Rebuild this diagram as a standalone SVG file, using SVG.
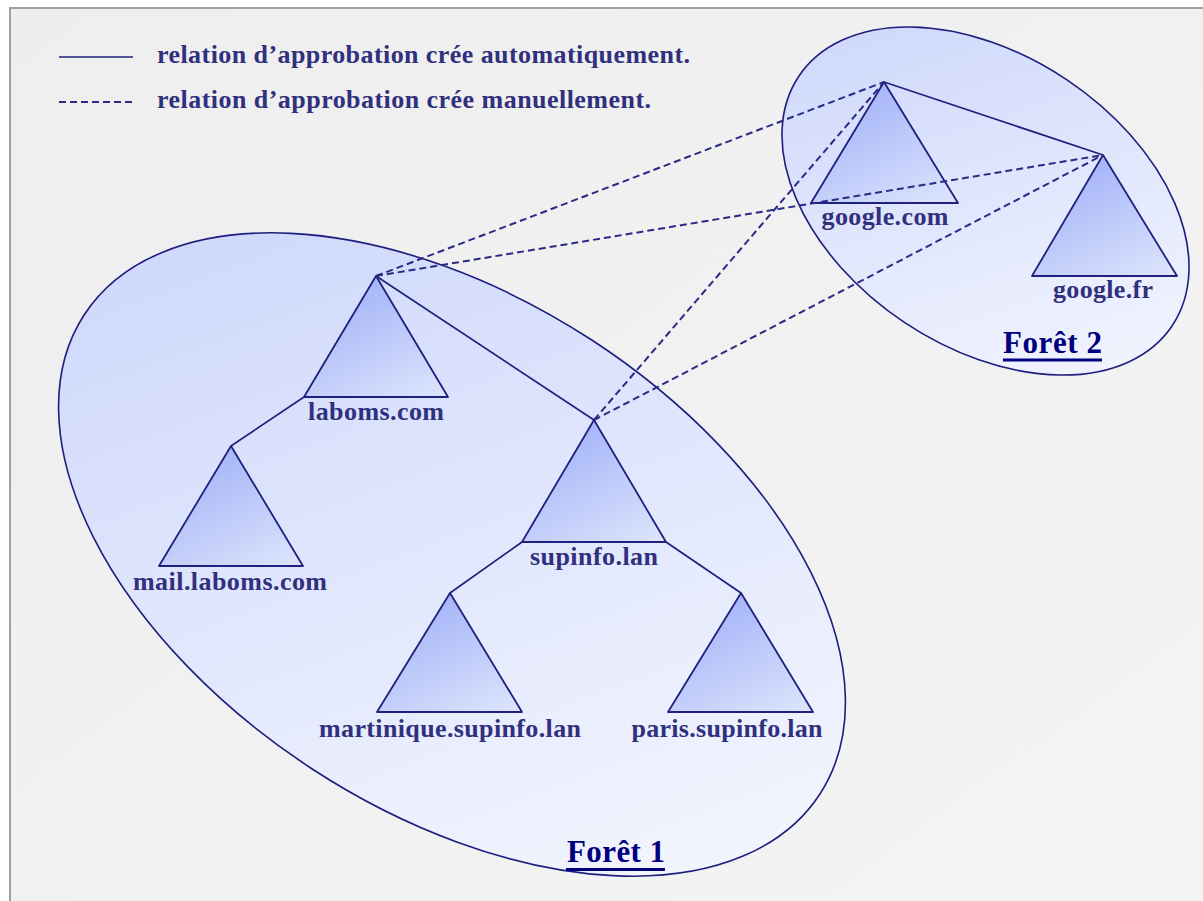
<svg xmlns="http://www.w3.org/2000/svg" width="1203" height="901" viewBox="0 0 1203 901">
<defs>
<linearGradient id="bg" x1="0" y1="0" x2="1" y2="1">
<stop offset="0" stop-color="#eeeeee"/>
<stop offset="1" stop-color="#f4f4f4"/>
</linearGradient>
<linearGradient id="f1" gradientUnits="userSpaceOnUse" x1="100" y1="300" x2="800" y2="820">
<stop offset="0" stop-color="#cdd7fb"/>
<stop offset="1" stop-color="#f5f7fe"/>
</linearGradient>
<linearGradient id="f2" gradientUnits="userSpaceOnUse" x1="800" y1="60" x2="1180" y2="360">
<stop offset="0" stop-color="#cdd7fb"/>
<stop offset="1" stop-color="#f5f7fe"/>
</linearGradient>
<linearGradient id="tri" x1="0.35" y1="0.1" x2="0.9" y2="1">
<stop offset="0" stop-color="#a6b6f8"/>
<stop offset="1" stop-color="#dbe3fc"/>
</linearGradient>
</defs>
<style>
.forest{stroke:#1e1e7e;stroke-width:1.6}
.tri{fill:url(#tri);stroke:#20207e;stroke-width:1.8;stroke-linejoin:round}
.lbl{font-family:"Liberation Serif","Times New Roman",serif;font-weight:bold;font-size:26px;fill:#30307f;text-anchor:middle}
.leg{font-family:"Liberation Serif","Times New Roman",serif;font-weight:bold;font-size:26px;fill:#30307f}
.ftitle{font-family:"Liberation Serif","Times New Roman",serif;font-weight:bold;font-size:31px;fill:#00007f}
.uline{stroke:#00007f;stroke-width:3}
.solid{stroke:#20207e;stroke-width:1.7;fill:none}
.dash{stroke:#2a2a85;stroke-width:2;fill:none;stroke-dasharray:7 4}
</style>
<rect x="0" y="0" width="1203" height="901" fill="#ffffff"/>
<rect x="10" y="8" width="1210" height="910" fill="url(#bg)" stroke="#a0a0a0" stroke-width="2"/>

<g id="legend">
<line class="solid" x1="59" y1="57" x2="133" y2="57"/>
<text class="leg" x="157" y="63" textLength="533" lengthAdjust="spacing">relation d’approbation crée automatiquement.</text>
<line class="dash" x1="59" y1="102" x2="133" y2="102"/>
<text class="leg" x="157" y="108" textLength="494" lengthAdjust="spacing">relation d’approbation crée manuellement.</text>
</g>

<g id="foret1">
<ellipse class="forest" cx="452" cy="554.5" rx="439" ry="256" transform="rotate(33.1 452 554.5)" fill="url(#f1)"/>
<text class="ftitle" x="567" y="862" textLength="98" lengthAdjust="spacing">Forêt 1</text>
<line class="uline" x1="566" y1="869.5" x2="665" y2="869.5"/>
</g>

<g id="foret2">
<ellipse class="forest" cx="985.5" cy="201" rx="224.5" ry="146" transform="rotate(33.75 985.5 201)" fill="url(#f2)"/>
<text class="ftitle" x="1003" y="353" textLength="99" lengthAdjust="spacing">Forêt 2</text>
<line class="uline" x1="1003" y1="360" x2="1102" y2="360"/>
</g>

<g id="node-laboms">
<polygon class="tri" points="376,276 304,397 448,397"/>
<text class="lbl" x="376" y="420" textLength="136" lengthAdjust="spacing">laboms.com</text>
</g>
<g id="node-mail">
<polygon class="tri" points="231,446 159,566 303,566"/>
<text class="lbl" x="230" y="590" textLength="194" lengthAdjust="spacing">mail.laboms.com</text>
</g>
<g id="node-supinfo">
<polygon class="tri" points="594,420 522,542 666,542"/>
<text class="lbl" x="594" y="565" textLength="128" lengthAdjust="spacing">supinfo.lan</text>
</g>
<g id="node-martinique">
<polygon class="tri" points="450,593 377,712 522,712"/>
<text class="lbl" x="450" y="737" textLength="262" lengthAdjust="spacing">martinique.supinfo.lan</text>
</g>
<g id="node-paris">
<polygon class="tri" points="741,593 668,712 813,712"/>
<text class="lbl" x="727" y="737" textLength="191" lengthAdjust="spacing">paris.supinfo.lan</text>
</g>
<g id="node-googlecom">
<polygon class="tri" points="884,82 811,203 958,203"/>
<text class="lbl" x="885" y="225" textLength="127" lengthAdjust="spacing">google.com</text>
</g>
<g id="node-googlefr">
<polygon class="tri" points="1103,155 1032,276 1177,276"/>
<text class="lbl" x="1103" y="298" textLength="100" lengthAdjust="spacing">google.fr</text>
</g>

<g id="connectors">
<line class="solid" x1="376" y1="276" x2="594" y2="420"/>
<line class="solid" x1="304" y1="397" x2="231" y2="446"/>
<line class="solid" x1="522" y1="542" x2="450" y2="593"/>
<line class="solid" x1="666" y1="542" x2="741" y2="593"/>
<line class="solid" x1="884" y1="82" x2="1103" y2="155"/>
<line class="dash" x1="376" y1="276" x2="884" y2="82"/>
<line class="dash" x1="376" y1="276" x2="1103" y2="155"/>
<line class="dash" x1="594" y1="420" x2="884" y2="82"/>
<line class="dash" x1="594" y1="420" x2="1103" y2="155"/>
</g>
</svg>
